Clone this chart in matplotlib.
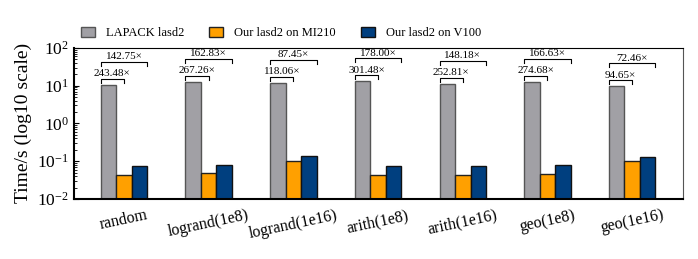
import numpy as np
import matplotlib
matplotlib.use('Agg')
import matplotlib.pyplot as plt
from matplotlib.ticker import LogLocator

plt.rcParams['font.family'] = ['Liberation Serif', 'DejaVu Serif']
plt.rcParams['mathtext.fontset'] = 'stix'

categories = ['random', 'logrand(1e8)', 'logrand(1e16)', 'arith(1e8)',
              'arith(1e16)', 'geo(1e8)', 'geo(1e16)']
lapack_time = [10.6, 12.8, 11.8, 13.0, 11.1, 12.8, 9.6]
mi210_time = [0.0435, 0.0479, 0.0999, 0.0431, 0.0439, 0.0466, 0.101]
v100_time = [0.0743, 0.0786, 0.135, 0.073, 0.0749, 0.0768, 0.132]
speedup_mi210 = ['243.48', '267.26', '118.06', '301.48', '252.81', '274.68', '94.65']
speedup_v100 = ['142.75', '162.83', '87.45', '178.00', '148.18', '166.63', '72.46']

gray = '#a1a0a5'
orange = '#ffa000'
blue = '#003f7f'

fig = plt.figure(figsize=(6.98, 2.59), dpi=100)
ax = fig.add_axes([0.106, 0.232, 0.8725, 0.583])

x = np.arange(len(categories))
w = 0.183

ax.bar(x - w, lapack_time, w, color=gray, edgecolor='#555555', linewidth=1.0,
       label='LAPACK lasd2')
ax.bar(x, mi210_time, w, color=orange, edgecolor='#222222', linewidth=1.0,
       label='Our lasd2 on MI210')
ax.bar(x + w, v100_time, w, color=blue, edgecolor='#111111', linewidth=1.0,
       label='Our lasd2 on V100')

ax.set_yscale('log')
ax.set_ylim(1e-2, 1e2)
ax.set_xlim(-0.59, 6.6)

# speedup brackets
for i in range(len(categories)):
    top = lapack_time[i]
    left = x[i] - 1.5 * w
    for ratio, right, lab in [(1.44, x[i], speedup_mi210[i]),
                              (4.07, x[i] + 1.5 * w, speedup_v100[i])]:
        yb = top * ratio
        ax.plot([left, left, right, right], [yb * 0.78, yb, yb, yb * 0.78],
                color='black', lw=0.8, clip_on=False)
        ax.text((left + right) / 2, yb * 1.05, lab + '\u00d7', ha='center',
                va='bottom', fontsize=8)

ax.set_xticks(x)
ax.set_xticklabels(categories, rotation=12, fontsize=11.5)
ax.tick_params(axis='x', length=0, pad=6)
ax.tick_params(axis='y', which='both', direction='in', labelsize=12.5)
ax.yaxis.set_minor_locator(LogLocator(base=10, subs=np.arange(2, 10) * 1.0, numticks=20))
ax.set_ylabel('Time/s (log10 scale)', fontsize=14)

for s in ['left', 'bottom']:
    ax.spines[s].set_linewidth(1.5)
for s in ['top', 'right']:
    ax.spines[s].set_linewidth(0.8)
ax.spines['right'].set_color('#555555')

fig.legend(loc='center', bbox_to_anchor=(281 / 698, 1 - 33 / 259), ncol=3,
           frameon=False, fontsize=9, handlelength=1.1, handleheight=0.9,
           handletextpad=0.9, columnspacing=2.0)

fig.savefig('out.png', dpi=100)
